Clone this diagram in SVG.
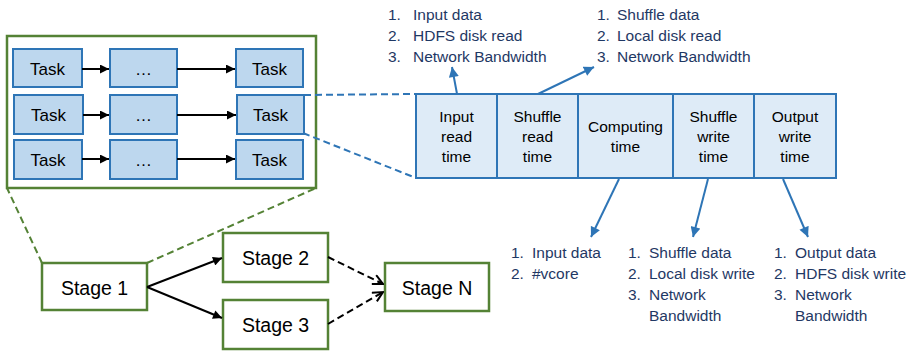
<svg xmlns="http://www.w3.org/2000/svg" width="907" height="352" viewBox="0 0 907 352">
<defs>
<style>
.task{fill:#BDD7EE;stroke:#2E75B6;stroke-width:2}
.tbox{fill:#DEEBF7;stroke:#2E75B6;stroke-width:2}
.stage{fill:#fff;stroke:#548235;stroke-width:2.5}
.t{font-family:"Liberation Sans",Arial,sans-serif;fill:#000;text-anchor:middle}
.l{font-family:"Liberation Sans",Arial,sans-serif;font-size:15.5px;fill:#1F3864}
.blk{stroke:#000;stroke-width:2;fill:none}
.blu{stroke:#2E75B6;stroke-width:2;fill:none}
.bdash{stroke:#2E75B6;stroke-width:2;fill:none;stroke-dasharray:7,4}
.gdash{stroke:#548235;stroke-width:2;fill:none;stroke-dasharray:7,4}
.kdash{stroke:#000;stroke-width:2;fill:none;stroke-dasharray:7,4}
</style>
<marker id="ak" viewBox="0 0 10 10" refX="10" refY="5" markerWidth="10" markerHeight="9" markerUnits="userSpaceOnUse" orient="auto"><path d="M0,0 L10,5 L0,10 z" fill="#000"/></marker>
<marker id="ab" viewBox="0 0 10 10" refX="10" refY="5" markerWidth="11" markerHeight="10" markerUnits="userSpaceOnUse" orient="auto"><path d="M0,0 L10,5 L0,10 z" fill="#2E75B6"/></marker>
<marker id="ao" viewBox="0 0 12 12" refX="11" refY="6" markerWidth="12" markerHeight="12" markerUnits="userSpaceOnUse" orient="auto"><path d="M1,1 L11,6 L1,11" fill="none" stroke="#000" stroke-width="2"/></marker>
</defs>
<rect width="907" height="352" fill="#fff"/>

<g id="stage-detail">
<rect x="7" y="36" width="309" height="152" fill="#fff" stroke="#548235" stroke-width="2.5"/>
</g>
<g id="task-r1c1"><rect class="task" x="13" y="49" width="69" height="38"/><text class="t" x="47.5" y="75" font-size="17">Task</text></g>
<g id="task-r1c2"><rect class="task" x="110" y="49" width="67" height="38"/><text class="t" x="143.5" y="75" font-size="17">…</text></g>
<g id="task-r1c3"><rect class="task" x="236" y="49" width="67" height="38"/><text class="t" x="269.5" y="75" font-size="17">Task</text></g>
<g id="task-r2c1"><rect class="task" x="14" y="95" width="69" height="39"/><text class="t" x="48.5" y="121" font-size="17">Task</text></g>
<g id="task-r2c2"><rect class="task" x="110" y="95" width="67" height="39"/><text class="t" x="143.5" y="121" font-size="17">…</text></g>
<g id="task-r2c3"><rect class="task" x="237" y="95" width="67" height="39"/><text class="t" x="270.5" y="121" font-size="17">Task</text></g>
<g id="task-r3c1"><rect class="task" x="14" y="140" width="68" height="39"/><text class="t" x="48" y="166" font-size="17">Task</text></g>
<g id="task-r3c2"><rect class="task" x="110" y="140" width="67" height="39"/><text class="t" x="143.5" y="166" font-size="17">…</text></g>
<g id="task-r3c3"><rect class="task" x="236" y="140" width="67" height="39"/><text class="t" x="269.5" y="166" font-size="17">Task</text></g>

<g id="time-input"><rect class="tbox" x="416" y="94" width="81" height="84"/><text class="t" font-size="15.5"><tspan x="456.5" y="122">Input</tspan><tspan x="456.5" y="142">read</tspan><tspan x="456.5" y="162">time</tspan></text></g>
<g id="time-shuffle-read"><rect class="tbox" x="497" y="94" width="81" height="84"/><text class="t" font-size="15.5"><tspan x="537.5" y="122">Shuffle</tspan><tspan x="537.5" y="142">read</tspan><tspan x="537.5" y="162">time</tspan></text></g>
<g id="time-computing"><rect class="tbox" x="578" y="94" width="95" height="84"/><text class="t" font-size="15.5"><tspan x="625.5" y="132">Computing</tspan><tspan x="625.5" y="152">time</tspan></text></g>
<g id="time-shuffle-write"><rect class="tbox" x="673" y="94" width="81" height="84"/><text class="t" font-size="15.5"><tspan x="713.5" y="122">Shuffle</tspan><tspan x="713.5" y="142">write</tspan><tspan x="713.5" y="162">time</tspan></text></g>
<g id="time-output"><rect class="tbox" x="754" y="94" width="82" height="84"/><text class="t" font-size="15.5"><tspan x="795" y="122">Output</tspan><tspan x="795" y="142">write</tspan><tspan x="795" y="162">time</tspan></text></g>

<g id="stage1"><rect class="stage" x="42" y="263" width="105" height="47"/><text class="t" x="94.5" y="295" font-size="19.5">Stage 1</text></g>
<g id="stage2"><rect class="stage" x="223" y="233" width="105" height="49"/><text class="t" x="275.5" y="265" font-size="19.5">Stage 2</text></g>
<g id="stage3"><rect class="stage" x="223" y="300" width="105" height="49"/><text class="t" x="275.5" y="332" font-size="19.5">Stage 3</text></g>
<g id="stageN"><rect class="stage" x="385" y="263" width="104" height="48"/><text class="t" x="437" y="295" font-size="19.5">Stage N</text></g>

<g id="list-input-read">
<text class="l" x="388" y="20">1.</text><text class="l" x="413" y="20">Input data</text>
<text class="l" x="388" y="41">2.</text><text class="l" x="413" y="41">HDFS disk read</text>
<text class="l" x="388" y="62">3.</text><text class="l" x="413" y="62">Network Bandwidth</text>
</g>
<g id="list-shuffle-read">
<text class="l" x="597" y="20">1.</text><text class="l" x="617" y="20">Shuffle data</text>
<text class="l" x="597" y="41">2.</text><text class="l" x="617" y="41">Local disk read</text>
<text class="l" x="597" y="62">3.</text><text class="l" x="617" y="62">Network Bandwidth</text>
</g>
<g id="list-computing">
<text class="l" x="511" y="258">1.</text><text class="l" x="532" y="258">Input data</text>
<text class="l" x="511" y="279">2.</text><text class="l" x="532" y="279">#vcore</text>
</g>
<g id="list-shuffle-write">
<text class="l" x="628" y="258">1.</text><text class="l" x="649" y="258">Shuffle data</text>
<text class="l" x="628" y="279">2.</text><text class="l" x="649" y="279">Local disk write</text>
<text class="l" x="628" y="300">3.</text><text class="l" x="649" y="300">Network</text>
<text class="l" x="649" y="321">Bandwidth</text>
</g>
<g id="list-output">
<text class="l" x="774" y="258">1.</text><text class="l" x="795" y="258">Output data</text>
<text class="l" x="774" y="279">2.</text><text class="l" x="795" y="279">HDFS disk write</text>
<text class="l" x="774" y="300">3.</text><text class="l" x="795" y="300">Network</text>
<text class="l" x="795" y="321">Bandwidth</text>
</g>

<g id="connectors">
<line class="blk" x1="82" y1="69" x2="109" y2="69" marker-end="url(#ak)"/>
<line class="blk" x1="177" y1="69" x2="235" y2="69" marker-end="url(#ak)"/>
<line class="blk" x1="83" y1="115" x2="109" y2="115" marker-end="url(#ak)"/>
<line class="blk" x1="177" y1="115" x2="236" y2="115" marker-end="url(#ak)"/>
<line class="blk" x1="82" y1="159" x2="109" y2="159" marker-end="url(#ak)"/>
<line class="blk" x1="177" y1="159" x2="235" y2="159" marker-end="url(#ak)"/>
<line class="bdash" x1="304" y1="95" x2="416" y2="94"/>
<line class="bdash" x1="303" y1="133" x2="416" y2="178"/>
<line class="gdash" x1="42" y1="263" x2="7" y2="188"/>
<line class="gdash" x1="147" y1="263" x2="316" y2="188"/>
<line class="blk" x1="147" y1="287" x2="222" y2="258" marker-end="url(#ak)"/>
<line class="blk" x1="147" y1="287" x2="222" y2="318" marker-end="url(#ak)"/>
<line class="kdash" x1="328" y1="257" x2="383" y2="284" marker-end="url(#ao)"/>
<line class="kdash" x1="328" y1="324" x2="383" y2="292" marker-end="url(#ao)"/>
<line class="blu" x1="457" y1="94" x2="452" y2="67" marker-end="url(#ab)"/>
<line class="blu" x1="538" y1="94" x2="594" y2="67" marker-end="url(#ab)"/>
<line class="blu" x1="619" y1="179" x2="591" y2="237" marker-end="url(#ab)"/>
<line class="blu" x1="708" y1="179" x2="693" y2="237" marker-end="url(#ab)"/>
<line class="blu" x1="783" y1="179" x2="808" y2="237" marker-end="url(#ab)"/>
</g>
</svg>
